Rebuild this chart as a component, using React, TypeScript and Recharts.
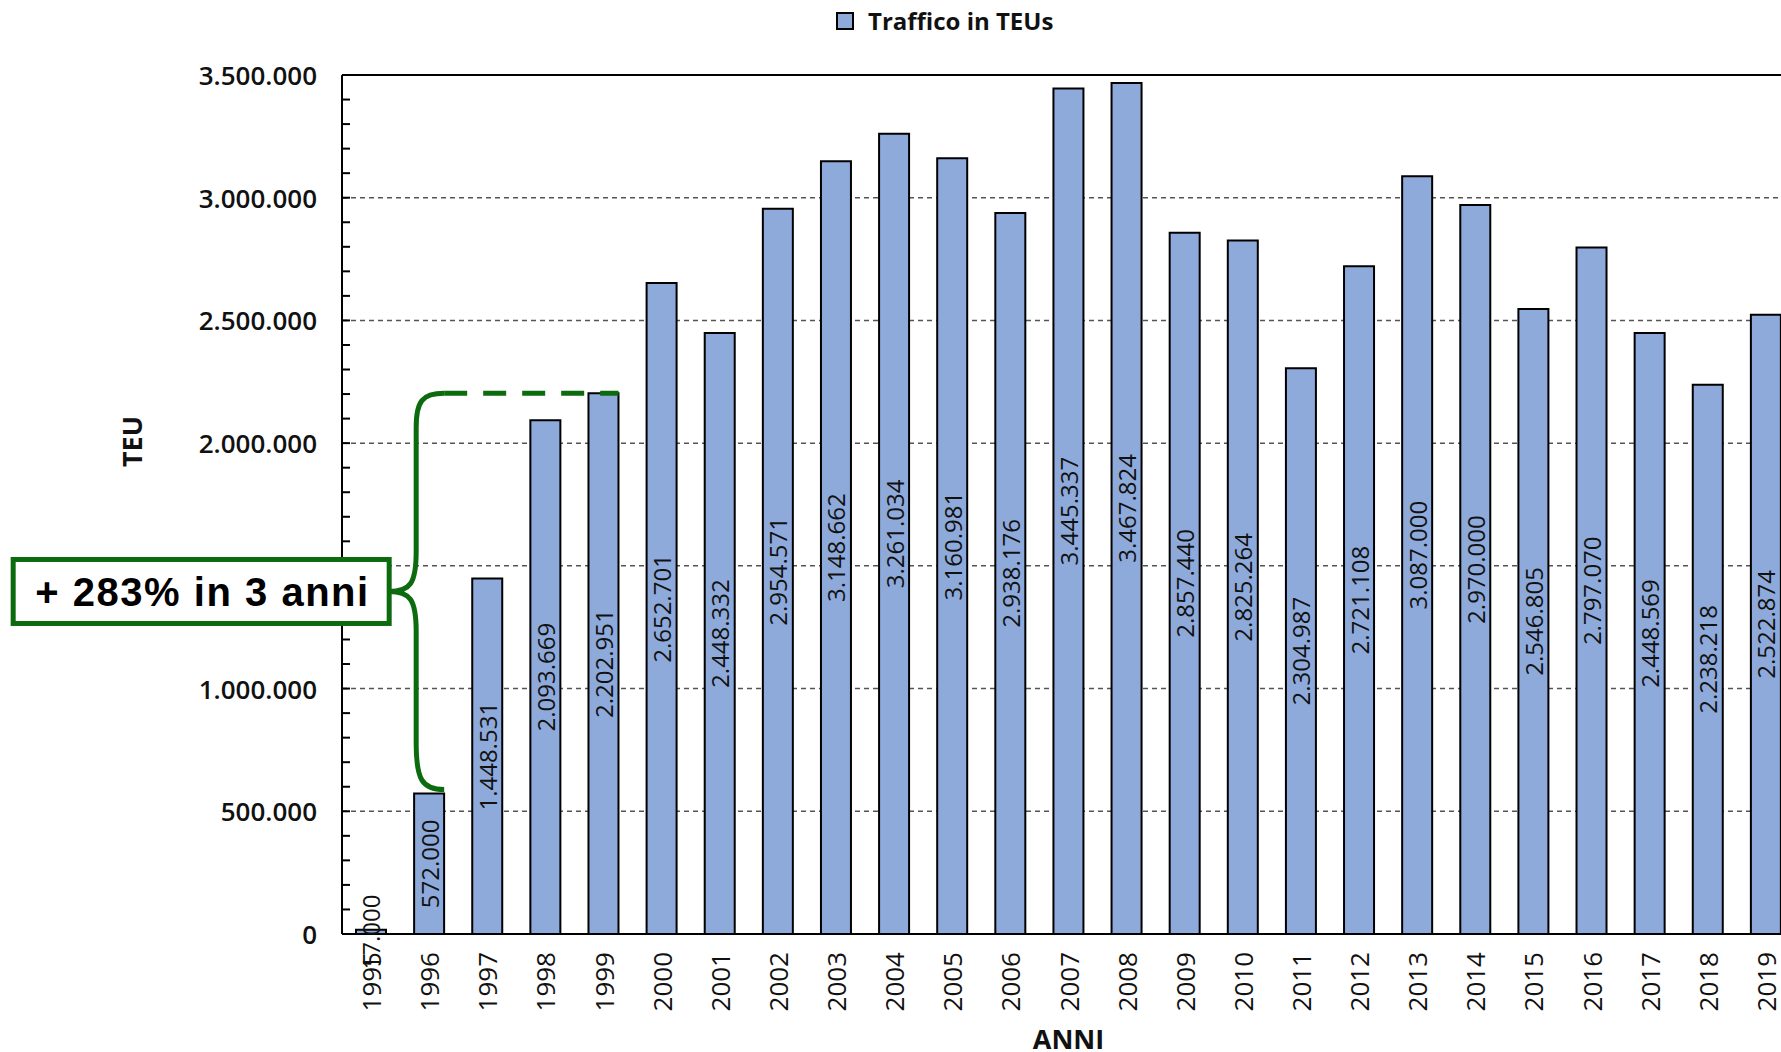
import { BarChart, Bar, XAxis, YAxis, CartesianGrid, Legend, LabelList, ReferenceLine } from 'recharts';

// Container traffic, 1995-2019
const years = [
  '1995', '1996', '1997', '1998', '1999', '2000', '2001', '2002', '2003', '2004',
  '2005', '2006', '2007', '2008', '2009', '2010', '2011', '2012', '2013', '2014',
  '2015', '2016', '2017', '2018', '2019',
];
const teus = [
  17000, 572000, 1448531, 2093669, 2202951, 2652701, 2448332, 2954571, 3148662, 3261034,
  3160981, 2938176, 3445337, 3467824, 2857440, 2825264, 2304987, 2721108, 3087000, 2970000,
  2546805, 2797070, 2448569, 2238218, 2522874,
];
const majorTicks = [0, 500000, 1000000, 1500000, 2000000, 2500000, 3000000, 3500000];
const Y_MAX = 3500000;
const minorTicks = Array.from({ length: 36 }, (_, i) => i * 100000);

const data = years.map((year, i) => ({ year, teu: teus[i] }));

const BAR_SIZE = 30;
const GREEN = '#0c6b0f';
const BAR_FILL = '#8eaadb';
const FONT = '"Open Sans", "DejaVu Sans", sans-serif';

const fmt = (v: number) => String(v).replace(/\B(?=(\d{3})+(?!\d))/g, '.');

const YTick = (props: any) => {
  const { x, y, payload } = props;
  const v = payload.value;
  const isMajor = v % 500000 === 0;
  return (
    <g>
      {v !== 0 && v !== Y_MAX && <line x1={x} y1={y} x2={x + 8} y2={y} stroke="#000" strokeWidth={2} />}
      {isMajor && (
        <text x={x - 25} y={y} textAnchor="end" dominantBaseline="central" fontFamily={FONT} fontSize={26} fontWeight={600} fill="#111">
          {fmt(v)}
        </text>
      )}
    </g>
  );
};

const XTick = (props: any) => {
  const { x, y, payload } = props;
  const ty = y + 18;
  return (
    <text x={x} y={ty} transform={`rotate(-90, ${x}, ${ty})`} textAnchor="end" dominantBaseline="central" fontFamily={FONT} fontSize={26} fill="#111">
      {payload.value}
    </text>
  );
};

const BarValue = (props: any) => {
  const { x, y, width, height, value } = props;
  const cx = x + width / 2;
  const cy = y + height / 2;
  return (
    <text x={cx} y={cy} transform={`rotate(-90, ${cx}, ${cy})`} textAnchor="middle" dominantBaseline="central" fontFamily={FONT} fontSize={24} fill="#111">
      {fmt(value)}
    </text>
  );
};

const gridY = ({ yAxis, offset }: any) =>
  majorTicks
    .filter((v) => v !== 0 && v !== Y_MAX)
    .map((v) => (yAxis && typeof yAxis.scale === 'function' ? yAxis.scale(v) : offset.top + offset.height * (1 - v / Y_MAX)));

// curly brace from the 1996 bar up to the 1999 bar, with the growth box at its tip
const Brace = (props: any) => {
  const { x1, y1, x2, y2 } = props;
  const half = BAR_SIZE / 2;
  const bx = x1 + half;
  const by = y1 - 4;
  const vx = bx - 28;
  const tipX = vx - 27;
  const ym = (by + y2) / 2;
  const d = [
    `M ${bx} ${y2}`,
    `C ${vx + 6} ${y2} ${vx} ${y2 + 8} ${vx} ${y2 + 34}`,
    `L ${vx} ${ym - 40}`,
    `C ${vx} ${ym - 8} ${vx - 6} ${ym} ${tipX} ${ym}`,
    `C ${vx - 6} ${ym} ${vx} ${ym + 8} ${vx} ${ym + 40}`,
    `L ${vx} ${by - 46}`,
    `C ${vx} ${by - 10} ${vx + 6} ${by} ${bx} ${by}`,
  ].join(' ');
  const boxW = 376;
  const boxH = 64;
  return (
    <g>
      <path d={d} fill="none" stroke={GREEN} strokeWidth={5} />
      <line x1={bx} y1={y2} x2={x2 + half} y2={y2} stroke={GREEN} strokeWidth={5} strokeDasharray="23 16" />
      <rect x={tipX - boxW} y={ym - boxH / 2} width={boxW} height={boxH} fill="#fff" stroke={GREEN} strokeWidth={5} />
      <text
        x={tipX - boxW + 22}
        y={ym + 1}
        dominantBaseline="central"
        fontFamily='"Liberation Sans", Arial, sans-serif'
        fontWeight={700}
        fontSize={40}
        fill="#000"
        textLength={333}
        lengthAdjust="spacing"
      >
        + 283% in 3 anni
      </text>
    </g>
  );
};

const LegendContent = () => (
  <div style={{ display: 'flex', alignItems: 'center', fontFamily: FONT, fontSize: 24, fontWeight: 700, color: '#111' }}>
    <span style={{ display: 'inline-block', width: 14, height: 14, background: BAR_FILL, border: '2px solid #000', marginRight: 14 }} />
    <span>Traffico in TEUs</span>
  </div>
);

export default function App() {
  return (
    <div style={{ position: 'absolute', left: 0, top: 0, width: 1781, height: 1052, overflow: 'hidden', background: '#fff' }}>
      <BarChart width={1795} height={1052} data={data} margin={{ top: 75, right: 0, bottom: 0, left: 0 }}>
        <CartesianGrid vertical={false} horizontalCoordinatesGenerator={gridY} stroke="#555" strokeWidth={1.5} strokeDasharray="5 4" />
        <Legend verticalAlign="middle" wrapperStyle={{ top: 4, left: 836, width: 'auto', height: 'auto' }} content={LegendContent} />
        <XAxis
          dataKey="year"
          height={118}
          tickSize={0}
          tickMargin={0}
          tickLine={false}
          interval={0}
          axisLine={{ stroke: '#000', strokeWidth: 2 }}
          tick={<XTick />}
          label={(p: any) => {
            const vb = p.viewBox || {};
            return (
              <text x={vb.x + vb.width / 2} y={vb.y + 104} textAnchor="middle" dominantBaseline="central" fontFamily={FONT} fontSize={27} fontWeight={700} fill="#111">
                ANNI
              </text>
            );
          }}
        />
        <YAxis
          width={342}
          domain={[0, Y_MAX]}
          ticks={minorTicks}
          interval={0}
          tickSize={0}
          tickMargin={0}
          tickLine={false}
          axisLine={{ stroke: '#000', strokeWidth: 2 }}
          tick={<YTick />}
          label={(p: any) => {
            const vb = p.viewBox || {};
            const lx = vb.x + 131;
            const ly = vb.y + vb.height / 2 - 63;
            return (
              <text x={lx} y={ly} transform={`rotate(-90, ${lx}, ${ly})`} textAnchor="middle" dominantBaseline="central" fontFamily={FONT} fontSize={27} fontWeight={700} fill="#111">
                TEU
              </text>
            );
          }}
        />
        <ReferenceLine y={Y_MAX} stroke="#000" strokeWidth={2} />
        <Bar dataKey="teu" name="Traffico in TEUs" fill={BAR_FILL} stroke="#000" strokeWidth={2} barSize={BAR_SIZE} isAnimationActive={false}>
          <LabelList dataKey="teu" content={<BarValue />} />
        </Bar>
        <ReferenceLine
          segment={[
            { x: years[1], y: teus[1] },
            { x: years[4], y: teus[4] },
          ]}
          zIndex={3000}
          shape={<Brace />}
        />
      </BarChart>
    </div>
  );
}
